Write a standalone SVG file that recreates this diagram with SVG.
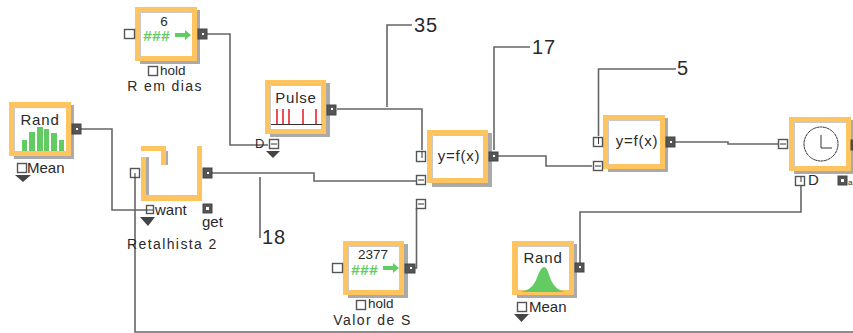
<svg xmlns="http://www.w3.org/2000/svg" width="853" height="333" viewBox="0 0 853 333">
<style>
text{font-family:"Liberation Sans",Arial,sans-serif;font-size:15px;fill:#2a2a2a}
.wide{letter-spacing:.8px}
.lab{font-size:14px;letter-spacing:1.4px}
.hd{font-size:13.500px}
.sm{font-size:13px}
.big{font-size:20px;letter-spacing:1px}
.c{text-anchor:middle}
.sh{fill:#aaa}
.box{fill:#fff;stroke:#fdc45f;stroke-width:5}
.inn{fill:none;stroke:#c8c8c8;stroke-width:1}
.wire{fill:none;stroke:#666;stroke-width:1.6}
.in{fill:#fff;stroke:#555;stroke-width:1.4}
.out{fill:#555;stroke:#444;stroke-width:1}
.dot{fill:#fff}
.tri{fill:#444}
.g{fill:#62cc62}
.r{stroke:#e8232a;stroke-width:1.6}
.o{fill:#fdc45f}
.k{stroke:#333;stroke-width:1;fill:none}
.hash{font-size:15px;font-weight:bold;fill:#62cc62;font-family:"Liberation Mono",monospace}
</style>
<g id="connectors">
<path class="wire" d="M207 34H230V145H268"/>
<path class="wire" d="M81 129H112V210H146"/>
<path class="wire" d="M212 173H314V181H417"/>
<path class="wire" d="M337 109H422V150"/>
<path class="wire" d="M387 107V25H412"/>
<path class="wire" d="M260 177V238"/>
<path class="wire" d="M494 156H546V166H592"/>
<path class="wire" d="M494 150V47H530"/>
<path class="wire" d="M410 268H416.500V208"/>
<path class="wire" d="M672 142H728V144H779"/>
<path class="wire" d="M598.500 136V69H676"/>
<path class="wire" d="M580 264V212H801V178"/>
<path class="wire" d="M135 178V332H853"/>
</g>
<g id="r-em-dias">
<rect class="sh" x="140" y="10" width="60" height="54"/>
<rect class="box" x="137.500" y="9.500" width="57" height="49"/>
<path class="inn" d="M140.500 57V12.500H192"/>
<rect class="in" x="124.500" y="29.500" width="10" height="9"/>
<rect class="out" x="198" y="29" width="9" height="10"/><rect class="dot" x="202" y="33" width="2" height="2"/>
<text class="c hd" x="164" y="26">6</text>
<text class="hash" x="143" y="41">###</text>
<path class="g" d="M175 33h10v-3l6 5-6 5v-3h-10z"/>
<rect class="in" x="148.500" y="66.500" width="9" height="9"/>
<text class="hd" x="160" y="75">hold</text>
<text class="c lab" x="165" y="91">R em dias</text>
</g>
<g id="rand-mean">
<rect class="sh" x="14" y="105" width="60" height="54"/>
<rect class="box" x="11.500" y="104.500" width="57" height="49"/>
<path class="inn" d="M14.500 152V107.500H66"/>
<rect class="out" x="72" y="124" width="9" height="10"/><rect class="dot" x="76" y="128" width="2" height="2"/>
<text class="c wide" x="40" y="125">Rand</text>
<path class="g" d="M22 151v-11h5v11zM29 151v-19h6v19zM37 151v-24h6v24zM44 151v-22h5v22zM51 151v-18h6v18zM59 151v-11h5v11z"/>
<rect class="in" x="17.500" y="163.500" width="9" height="9"/>
<text x="27" y="173">Mean</text>
<path class="tri" d="M15 175h16l-8 7z"/>
</g>
<g id="pulse">
<rect class="sh" x="270" y="83" width="60" height="54"/>
<rect class="box" x="267.500" y="82.500" width="56" height="49"/>
<path class="inn" d="M270.500 130V85.500H321"/>
<rect class="out" x="327" y="105" width="9" height="10"/><rect class="dot" x="331" y="108" width="2" height="2"/>
<text class="c wide" x="296" y="103">Pulse</text>
<path class="r" d="M277 109v16M283 109v16M289 109v16M303 109v16M316 109v16"/>
<path class="k" d="M271 124.500h51"/>
<rect class="in" x="269.500" y="139.500" width="9" height="9"/>
<path class="k" d="M271 144h6"/>
<text class="sm" x="255" y="148">D</text>
<path class="tri" d="M266 151h14l-7 7z"/>
</g>
<g id="retalhista-2">
<path class="sh" d="M146 157h3v38h48v-49h5v55h-56zM166 151h2v14h-2z"/>
<path class="o" d="M141 157h5v38h51v-49h5v55h-61zM141 146h25v19h-5v-14h-20z"/>
<rect class="in" x="130.500" y="168.500" width="9" height="9"/>
<path class="k" d="M135 173v5"/>
<rect class="out" x="203" y="168" width="9" height="10"/><rect class="dot" x="207" y="172" width="2" height="2"/>
<rect class="in" x="146.500" y="205.500" width="7" height="8"/>
<path class="k" d="M146 210h7"/>
<text x="155" y="215">want</text>
<path class="tri" d="M140 217h15l-7 9z"/>
<rect class="out" x="203" y="204" width="9" height="9"/><rect class="dot" x="206" y="207" width="3" height="3"/>
<text x="202" y="227">get</text>
<text class="lab" x="127" y="249">Retalhista 2</text>
</g>
<g id="label-18"><text class="big" x="262" y="244">18</text></g>
<g id="label-35"><text class="big" x="414" y="32">35</text></g>
<g id="label-17"><text class="big" x="532" y="54">17</text></g>
<g id="label-5"><text class="big" x="677" y="75">5</text></g>
<g id="yfx-1">
<rect class="sh" x="432" y="133" width="60" height="54"/>
<rect class="box" x="429.500" y="132.500" width="56" height="48"/>
<path class="inn" d="M432.500 179V135.500H483"/>
<rect class="in" x="416.500" y="151.500" width="9" height="10"/>
<path class="k" d="M422 151v7"/>
<rect class="in" x="416.500" y="175.500" width="9" height="9"/>
<path class="k" d="M418 180h6"/>
<rect class="out" x="489" y="152" width="9" height="9"/><rect class="dot" x="493" y="155" width="2" height="2"/>
<text class="c wide" x="459" y="161">y=f(x)</text>
</g>
<g id="yfx-2">
<rect class="sh" x="608" y="118" width="60" height="54"/>
<rect class="box" x="605.500" y="117.500" width="57" height="49"/>
<path class="inn" d="M608.500 165V120.500H660"/>
<rect class="in" x="593.500" y="137.500" width="9" height="9"/>
<path class="k" d="M598.500 137v7"/>
<rect class="in" x="593.500" y="161.500" width="9" height="9"/>
<path class="k" d="M595 166h6"/>
<rect class="out" x="666" y="137" width="9" height="10"/><rect class="dot" x="670" y="141" width="2" height="2"/>
<text class="c wide" x="637" y="146">y=f(x)</text>
</g>
<g id="valor-de-s">
<rect class="sh" x="348" y="244" width="60" height="54"/>
<rect class="box" x="345.500" y="243.500" width="56" height="49"/>
<path class="inn" d="M348.500 291V246.500H399"/>
<rect class="in" x="332.500" y="263.500" width="10" height="9"/>
<rect class="out" x="405" y="264" width="10" height="9"/><rect class="dot" x="410" y="267" width="2" height="2"/>
<rect class="in" x="416.500" y="199.500" width="9" height="9"/>
<path class="k" d="M418 204h6"/>
<text class="c hd" x="373" y="259">2377</text>
<text class="hash" x="351" y="275">###</text>
<path class="g" d="M383 266h10v-3l6 5-6 5v-3h-10z"/>
<rect class="in" x="356.500" y="300.500" width="9" height="9"/>
<text class="hd" x="368" y="308">hold</text>
<text class="c lab" x="372.500" y="324.500">Valor de S</text>
</g>
<g id="rand-normal">
<rect class="sh" x="517" y="244" width="60" height="54"/>
<rect class="box" x="514.500" y="243.500" width="57" height="49"/>
<path class="inn" d="M517.500 291V246.500H569"/>
<rect class="out" x="575" y="263" width="9" height="9"/><rect class="dot" x="579" y="266" width="2" height="2"/>
<text class="c wide" x="543" y="263">Rand</text>
<path class="g" d="M521 292c8-2 11-5 14-10s5-15 9-15 5 10 8 15 6 8 13 10z"/>
<rect class="in" x="517.500" y="302.500" width="9" height="9"/>
<text x="529" y="312">Mean</text>
<path class="tri" d="M514 314h15l-7.500 8z"/>
</g>
<g id="clock">
<rect class="sh" x="794" y="120" width="59" height="54"/>
<rect class="box" x="791.500" y="119.500" width="57" height="49"/>
<path class="inn" d="M794.500 167V122.500H846"/>
<rect class="in" x="778.500" y="139.500" width="9" height="9"/>
<path class="k" d="M780 144h6"/>
<rect class="out" x="851" y="140" width="2" height="10"/>
<circle class="k" cx="821" cy="144" r="17" stroke-dasharray="3 .4"/>
<path class="k" d="M821 135v13h11" stroke-width="1.4"/>
<rect class="in" x="795.500" y="176.500" width="9" height="9"/>
<path class="k" d="M801 177v5"/>
<text x="808" y="185">D</text>
<rect class="out" x="838" y="176" width="9" height="9"/><rect class="dot" x="841" y="179" width="3" height="3"/>
<text x="848" y="185" style="font-size:8px">a</text>
</g>
</svg>
